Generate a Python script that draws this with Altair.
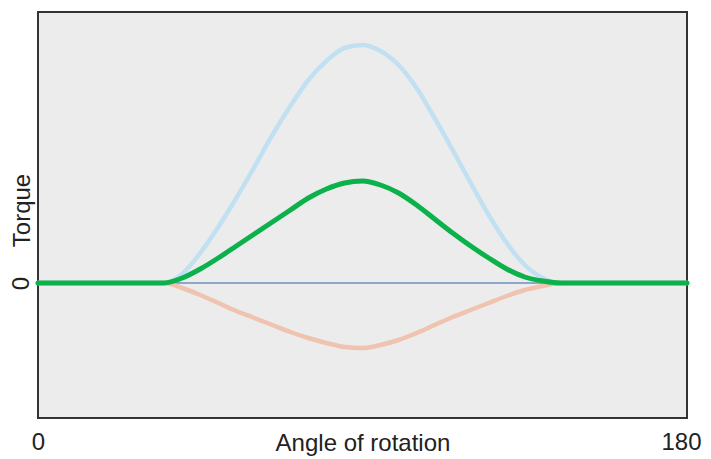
import altair as alt
import pandas as pd

angles = [0, 5, 10, 15, 20, 25, 30, 35, 40, 45, 50, 55, 60, 65, 70, 75, 80, 85, 90,
          95, 100, 105, 110, 115, 120, 125, 130, 135, 140, 145, 150, 155, 160, 165, 170, 175, 180]
torque_a = [0, 0, 0, 0, 0, 0, 0, 0, 9, 30, 56, 85, 116, 148, 177, 203, 222, 235, 238,
            232, 218, 195, 165, 133, 100, 68, 40, 18, 5, 0, 0, 0, 0, 0, 0, 0, 0]
torque_b = [0, 0, 0, 0, 0, 0, 0, 0, -5, -12, -20, -28, -35, -42, -49, -55, -60, -64, -65,
            -62, -57, -50, -42, -34, -27, -20, -13, -7, -3, 0, 0, 0, 0, 0, 0, 0, 0]
torque_net = [0, 0, 0, 0, 0, 0, 0, 0, 5, 14, 25, 37, 49, 61, 73, 85, 94, 100, 102,
              98, 90, 78, 64, 50, 37, 25, 14, 6, 2, 0, 0, 0, 0, 0, 0, 0, 0]

series = [("a", torque_a), ("b", torque_b), ("net", torque_net)]
rows = []
for name, vals in series:
    for a, v in zip(angles, vals):
        rows.append({"angle": a, "torque": v, "series": name})
df = pd.DataFrame(rows)

FONT = "Liberation Sans"
xs = alt.Scale(domain=[0, 180], nice=False, zero=False)
ys = alt.Scale(domain=[-135, 271], nice=False, zero=False)

xaxis = alt.Axis(values=[0, 180], title="Angle of rotation", grid=False,
                 ticks=False, domain=False, labelFontSize=24, titleFontSize=24,
                 labelFont=FONT, titleFont=FONT, labelFlush=False,
                 labelOffset=alt.ExprRef("datum.value == 180 ? -6 : 0"),
                 labelColor="#222", titleColor="#222", labelPadding=12,
                 titleFontWeight="normal", titleY=32, titleBaseline="alphabetic")
yaxis = alt.Axis(values=[0], title="Torque", grid=False, ticks=False, domain=False,
                 labelAngle=-90, labelFontSize=24, titleFontSize=24,
                 labelFont=FONT, titleFont=FONT, labelFlush=False,
                 labelColor="#222", titleColor="#222", labelPadding=10,
                 labelAlign="center", labelBaseline="alphabetic",
                 titleFontWeight="normal", titleX=-9, titleY=198,
                 titleBaseline="alphabetic", titleAlign="center")

zero = alt.Chart(pd.DataFrame({"angle": [0, 180], "torque": [0, 0]})).mark_line(
    color="#2f64a0", strokeWidth=1
).encode(
    x=alt.X("angle:Q", scale=xs, axis=xaxis),
    y=alt.Y("torque:Q", scale=ys, axis=yaxis),
)

def line(name, color, width):
    return alt.Chart(df).transform_filter(alt.datum.series == name).mark_line(
        color=color, strokeWidth=width, interpolate="monotone", strokeCap="round"
    ).encode(
        x=alt.X("angle:Q", scale=xs, axis=xaxis),
        y=alt.Y("torque:Q", scale=ys, axis=yaxis),
    )

chart = alt.layer(
    zero,
    line("a", "#c1e0f1", 4.5),
    line("b", "#efc3b0", 4.5),
    line("net", "#0bb14b", 5),
).properties(
    width=649, height=406,
    background="white",
    autosize=alt.AutoSizeParams(type="none"),
    padding={"left": 30, "top": 4, "right": 16, "bottom": 41},
).configure_view(
    fill="#ececec", stroke="#333333", strokeWidth=2
)

chart.save("out.html", embed_options={"renderer": "svg", "actions": False})
